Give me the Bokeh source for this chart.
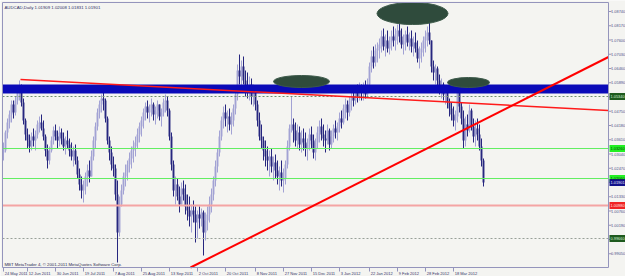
import numpy as np
from bokeh.plotting import figure
from bokeh.models import Range1d
from bokeh.core.properties import value
from bokeh.embed import file_html
from bokeh.resources import INLINE

# ---- data (prices in 1/10000 units) ----
HIGH = [10350,10398,10446,10478,10518,10518,10534,10566,10598,10582,10526,10446,10406,10382,10390,10406,10398,10438,10454,10462,
        10438,10382,10342,10334,10374,10414,10422,10398,10414,10406,10390,10374,10398,10366,10350,10334,10342,10294,10246,10214,
        10198,10230,10262,10278,10318,10374,10430,10486,10518,10542,10550,10526,10454,10374,10334,10294,10262,10198,10134,10182,
        10230,10262,10278,10310,10334,10358,10374,10406,10430,10454,10486,10510,10518,10502,10526,10510,10494,10518,10502,10486,
        10526,10542,10534,10486,10390,10278,10214,10206,10174,10190,10198,10182,10142,10134,10102,10118,10094,10078,10094,10086,
        10078,10070,10094,10134,10166,10214,10278,10326,10398,10454,10494,10502,10478,10486,10470,10502,10558,10662,10702,10678,
        10694,10638,10630,10614,10606,10582,10558,10518,10470,10422,10374,10358,10334,10318,10326,10294,10302,10278,10254,10278,
        10246,10278,10358,10422,10534,10446,10430,10422,10414,10398,10406,10390,10366,10406,10414,10382,10366,10414,10438,10446,
        10422,10398,10422,10406,10398,10422,10438,10430,10470,10478,10502,10526,10518,10534,10550,10566,10574,10582,10590,10582,
        10590,10598,10606,10670,10718,10734,10742,10750,10766,10798,10806,10782,10798,10774,10798,10814,10806,10822,10830,10806,
        10782,10798,10814,10790,10798,10774,10790,10758,10734,10750,10774,10798,10814,10830,10758,10678,10662,10654,10622,10606,
        10590,10574,10566,10526,10510,10494,10478,10574,10558,10510,10478,10454,10462,10502,10486,10446,10438,10446,10422,10366,
        10286]
LOW = [10278,10310,10366,10406,10430,10446,10458,10502,10518,10494,10422,10358,10326,10310,10318,10334,10318,10366,10390,10398,
       10358,10294,10246,10262,10310,10342,10358,10326,10334,10342,10318,10302,10326,10294,10278,10254,10262,10206,10158,10126,
       10110,10142,10174,10190,10214,10278,10326,10398,10446,10470,10478,10430,10342,10278,10238,10214,10118,9870,9974,10094,
       10142,10174,10198,10230,10246,10270,10294,10326,10350,10374,10406,10438,10446,10430,10454,10438,10422,10446,10438,10414,
       10454,10470,10454,10358,10238,10134,10102,10118,10070,10102,10118,10062,10038,10014,9990,10030,9950,9966,10006,10014,
       9898,9958,9998,10030,10070,10118,10174,10230,10294,10358,10406,10414,10390,10398,10382,10414,10462,10518,10582,10558,
       10582,10534,10526,10518,10502,10494,10478,10414,10358,10326,10278,10254,10238,10214,10230,10198,10206,10182,10158,10174,
       10150,10182,10246,10318,10390,10350,10334,10326,10318,10310,10318,10294,10278,10318,10326,10286,10278,10326,10350,10358,
       10334,10310,10342,10318,10326,10350,10366,10358,10390,10406,10422,10446,10438,10454,10478,10494,10502,10510,10518,10518,
       10518,10526,10534,10574,10630,10646,10654,10670,10686,10710,10718,10694,10710,10702,10718,10734,10718,10742,10750,10726,
       10702,10718,10734,10718,10710,10694,10710,10670,10646,10670,10694,10710,10734,10742,10630,10598,10582,10566,10542,10526,
       10518,10502,10486,10454,10438,10414,10398,10430,10470,10422,10326,10334,10374,10390,10398,10350,10334,10358,10318,10254,
       10174]
CLOSE = [10318,10390,10430,10462,10502,10470,10518,10550,10574,10510,10438,10382,10358,10334,10374,10358,10382,10422,10430,10406,
         10374,10318,10278,10318,10358,10398,10374,10358,10390,10366,10334,10358,10342,10318,10294,10318,10278,10222,10182,10158,
         10174,10214,10238,10214,10294,10358,10414,10470,10502,10526,10518,10446,10358,10310,10262,10246,10142,9990,10102,10158,
         10214,10230,10262,10286,10318,10334,10350,10382,10414,10438,10470,10494,10470,10486,10502,10462,10478,10502,10454,10470,
         10510,10518,10478,10374,10262,10158,10182,10134,10102,10166,10142,10094,10078,10054,10078,10062,10030,10062,10046,10070,
         9990,10038,10062,10102,10142,10198,10254,10310,10374,10438,10470,10446,10454,10422,10438,10486,10542,10638,10614,10654,
         10598,10574,10558,10582,10534,10550,10502,10438,10374,10358,10318,10294,10278,10294,10254,10270,10238,10214,10230,10198,
         10206,10262,10334,10406,10422,10398,10358,10390,10342,10366,10350,10326,10342,10382,10358,10310,10350,10390,10414,10382,
         10366,10358,10398,10342,10374,10406,10390,10414,10446,10430,10486,10502,10470,10518,10534,10518,10558,10534,10566,10550,
         10574,10542,10582,10654,10694,10670,10718,10726,10742,10774,10734,10758,10726,10750,10774,10758,10782,10798,10774,10742,
         10758,10782,10750,10766,10734,10750,10726,10686,10710,10726,10758,10774,10790,10758,10654,10630,10646,10598,10574,10582,
         10542,10550,10510,10486,10462,10438,10454,10550,10494,10446,10358,10422,10398,10478,10414,10374,10406,10382,10334,10278,
         10190]
FIRST_OPEN = 10310

DATE_LABELS = ["24 May 2011", "12 Jun 2011", "30 Jun 2011", "19 Jul 2011", "7 Aug 2011", "25 Aug 2011",
               "13 Sep 2011", "2 Oct 2011", "20 Oct 2011", "8 Nov 2011", "27 Nov 2011", "15 Dec 2011",
               "3 Jan 2012", "22 Jan 2012", "9 Feb 2012", "28 Feb 2012", "18 Mar 2012"]
DATE_BARS = [0, 12, 26, 40, 55, 69, 83, 97, 111, 126, 140, 154, 168, 183, 197, 211, 225]

PRICE_TICKS = [1.0874, 1.0817, 1.0760, 1.0703, 1.0646, 1.0589, 1.0532, 1.0475, 1.0418, 1.0361,
               1.0304, 1.0247, 1.0190, 1.0133, 1.0076, 1.0019, 0.9962, 0.9905]

TITLE = "AUDCAD,Daily  1.01909 1.02008 1.01831 1.01901"
COPYRIGHT = "MBT MetaTrader 4, \u00a9 2001-2011 MetaQuotes Software Corp."

BAND = (1.0546, 1.0582)
DOTTED_LEVEL = 1.0534
GREEN_LEVELS = [1.0326, 1.0206]
PINK_LEVEL = 1.0098
DOTTED_LOW = 0.9966
CURRENT = 1.01901

TREND1_X, TREND1_Y = [8.5, 302.5], [1.0602, 1.0478]
TREND2_X, TREND2_Y = [93.5, 302.5], [0.9850, 1.0692]

ELL_X = [204.5, 149.0, 232.5]
ELL_Y = [1.0866, 1.0594, 1.0590]
ELL_W = [35.5, 28.0, 21.0]
ELL_H = [0.0088, 0.0048, 0.0040]

# ---- layout of the chart window (data space covers the whole canvas) ----
X0, X1 = -0.5, 302.5          # plot area left / right (bar units)
Y0, Y1 = 0.9850, 1.0910       # plot area bottom / top (price)
PX = 0.0004                   # price per pixel

BG = "#f4f4f1"
FRAME = "#9494bc"
FONT = "Liberation Sans"

p = figure(width=625, height=276, output_backend="svg", toolbar_location=None,
           x_axis_location=None, y_axis_location=None,
           x_range=Range1d(-1.5, 311.0), y_range=Range1d(0.9814, 1.0918),
           min_border=0, min_border_left=0, min_border_right=0,
           min_border_top=0, min_border_bottom=0,
           background_fill_color=BG, border_fill_color=BG)
p.grid.visible = False
p.outline_line_color = None

# candles
n = len(CLOSE)
idx = np.arange(n)
close = np.array(CLOSE) / 10000.0
opn = np.concatenate([[FIRST_OPEN / 10000.0], close[:-1]])
high = np.maximum(np.maximum(np.array(HIGH) / 10000.0, opn), close)
low = np.minimum(np.minimum(np.array(LOW) / 10000.0, opn), close)
up = close >= opn
UPC, DNC = "#a2a2d4", "#26267f"
for mask, col in ((up, UPC), (~up, DNC)):
    p.segment(idx[mask], high[mask], idx[mask], low[mask], line_color=col, line_width=1)
    p.vbar(x=idx[mask], width=0.95, top=np.maximum(opn, close)[mask],
           bottom=np.minimum(opn, close)[mask], fill_color=col, line_color=None)

# horizontal levels
p.quad(left=X0, right=X1, bottom=BAND[0], top=BAND[1], fill_color="#0a0ab8", line_color=None)
p.segment(X0, DOTTED_LEVEL, X1, DOTTED_LEVEL, line_color="#6f8f6f", line_width=1, line_dash="2 2")
for g in GREEN_LEVELS:
    p.segment(X0, g, X1, g, line_color="#62ee62", line_width=1)
p.segment(X0, PINK_LEVEL, X1, PINK_LEVEL, line_color="#f4a4a4", line_width=2)
p.segment(X0, DOTTED_LOW, X1, DOTTED_LOW, line_color="#98a098", line_width=1, line_dash="2 2")

# trend lines
p.line(TREND1_X, TREND1_Y, line_color="#ff1a1a", line_width=1.5)
p.line(TREND2_X, TREND2_Y, line_color="#ff0000", line_width=2)

# ellipses
p.ellipse(x=ELL_X, y=ELL_Y, width=ELL_W, height=ELL_H, fill_color="#2f4b3c",
          line_color="#3d5a4a", line_width=1)

# frame and axes
p.quad(left=X0, right=X1, bottom=Y0, top=Y1, fill_color=None, line_color=FRAME, line_width=1)
p.segment([X1] * len(PRICE_TICKS), PRICE_TICKS, [X1 + 1.5] * len(PRICE_TICKS), PRICE_TICKS,
          line_color=FRAME, line_width=1)
p.segment(DATE_BARS, [Y0] * len(DATE_BARS), DATE_BARS, [Y0 - 4 * PX] * len(DATE_BARS),
          line_color=FRAME, line_width=1)

# texts
p.text(x=[0.5], y=[Y1 - 4.5 * PX], text=[TITLE], text_font=value(FONT), text_font_size="4.3px",
       text_color="#2c2c66", text_baseline="middle")
p.text(x=[0.5], y=[Y0 + 3.5 * PX], text=[COPYRIGHT], text_font=value(FONT), text_font_size="4.3px",
       text_color="#2c2c50", text_baseline="middle")
p.text(x=[k + 0.6 for k in DATE_BARS], y=[Y0 - 5.5 * PX] * len(DATE_BARS), text=DATE_LABELS,
       text_font=value(FONT), text_font_size="4.0px", text_color="#34346a", text_baseline="middle")
p.text(x=[X1 + 1.3] * len(PRICE_TICKS), y=PRICE_TICKS, text=["%.5f" % t for t in PRICE_TICKS],
       text_font=value(FONT), text_font_size="3.9px", text_color="#50508a", text_baseline="middle")

HL_LEVELS = [DOTTED_LEVEL, GREEN_LEVELS[0], GREEN_LEVELS[1], CURRENT, PINK_LEVEL, DOTTED_LOW]
HL_FILL = ["#1e5a1e", "#22f022", "#22f022", "#12128a", "#f02424", "#1e5a1e"]
HL_TEXT = ["#d8f0d8", "#0a3a0a", "#0a3a0a", "#e8e8ff", "#ffe0e0", "#d8f0d8"]
p.rect(x=[X1 + 4.6] * 6, y=HL_LEVELS, width=8.2, height=7 * PX, fill_color=HL_FILL, line_color=None)
p.text(x=[X1 + 1.0] * 6, y=HL_LEVELS, text=["%.5f" % v for v in HL_LEVELS], text_font=value(FONT),
       text_font_size="3.9px", text_color=HL_TEXT, text_baseline="middle")

open("out.html", "w").write(file_html(p, INLINE))
